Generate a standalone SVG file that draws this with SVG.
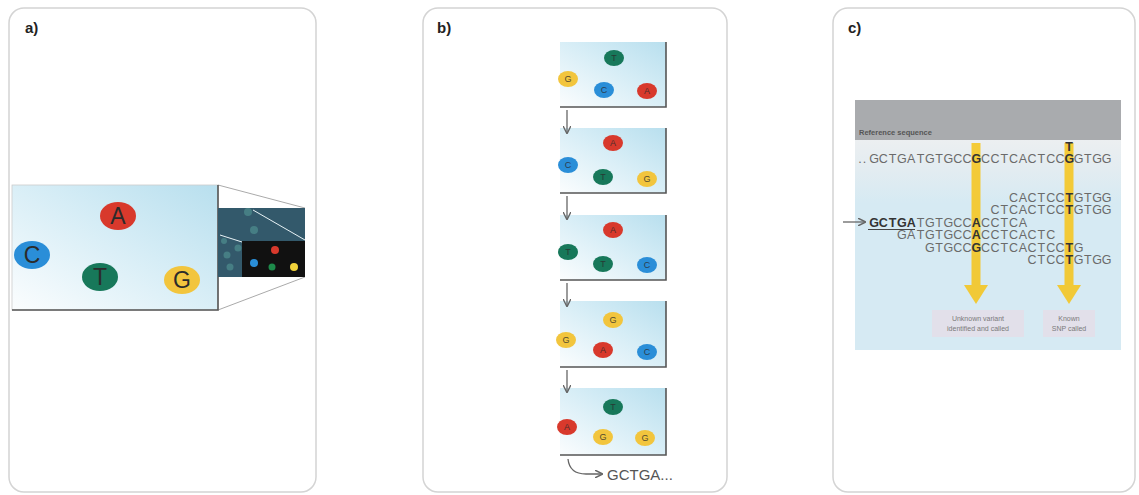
<svg xmlns="http://www.w3.org/2000/svg" width="1139" height="495" viewBox="0 0 1139 495">
<style>
.panel{fill:#fff;stroke:#d4d4d4;stroke-width:1.5}
.lbl{font-family:"Liberation Sans",Arial,sans-serif;font-weight:bold;font-size:15px;fill:#222}
.big{font-family:"Liberation Sans",Arial,sans-serif;font-size:23px;fill:#2b2b2b;text-anchor:middle}
.sm{font-family:"Liberation Sans",Arial,sans-serif;font-size:9px;fill:#2b2b2b;text-anchor:middle;opacity:.8}
.frame{fill:none;stroke:#555;stroke-width:1.6}
.seq{font-family:"Liberation Sans",Arial,sans-serif;font-size:12.5px;fill:#6a6a6a;text-anchor:middle}
.hl{fill:#333;font-weight:bold}
.note{font-family:"Liberation Sans",Arial,sans-serif;font-size:7px;fill:#7a7a7a;text-anchor:middle}
.arr{fill:none;stroke:#666;stroke-width:1.3}
.yel{fill:#f5c623;opacity:.9}
.R{fill:#d8392c}.B{fill:#2a8ed8}.Gr{fill:#17785a}.Y{fill:#f2c53d}
</style>
<defs>
<linearGradient id="gb" x1="0" y1="1" x2="1" y2="0">
<stop offset="0" stop-color="#fbfdfe"/><stop offset="0.55" stop-color="#d6edf6"/><stop offset="1" stop-color="#b8dfee"/>
</linearGradient>
<linearGradient id="gc" x1="0" y1="0" x2="0" y2="1">
<stop offset="0" stop-color="#eceff1"/><stop offset="0.15" stop-color="#e2ecf1"/><stop offset="0.3" stop-color="#d6eaf3"/><stop offset="1" stop-color="#d6eaf3"/>
</linearGradient>
<marker id="ah" viewBox="0 0 10 10" refX="9" refY="5" markerWidth="6" markerHeight="6" orient="auto">
<path d="M0,0 L10,5 L0,10" fill="none" stroke="#666" stroke-width="1.8"/>
</marker>
</defs>
<rect width="1139" height="495" fill="#fff"/>

<g id="panel-a">
<rect class="panel" x="9" y="8" width="307" height="484" rx="15"/>
<text class="lbl" x="25" y="33">a)</text>
<g id="flowcell">
<line x1="218" y1="185" x2="305" y2="208" stroke="#aaa" stroke-width="1"/>
<line x1="218" y1="310" x2="305" y2="277" stroke="#aaa" stroke-width="1"/>
<rect x="12" y="185" width="206" height="125" fill="url(#gb)" stroke="#ccc" stroke-width="0.8"/>
<polyline points="218,185 218,310 12,310" class="frame" stroke-width="2"/>
<ellipse class="R" cx="118" cy="216" rx="18" ry="14"/><text class="big" x="118" y="224">A</text>
<ellipse class="B" cx="32" cy="255" rx="18" ry="14"/><text class="big" x="32" y="263">C</text>
<ellipse class="Gr" cx="100" cy="277" rx="18" ry="14"/><text class="big" x="100" y="285">T</text>
<ellipse class="Y" cx="182" cy="280" rx="18" ry="14"/><text class="big" x="182" y="288">G</text>
</g>
<g id="zoom-view">
<rect x="218" y="208" width="87" height="69" fill="#33596b"/>
<g fill="#4f8e8f" opacity="0.7">
<circle cx="248" cy="212" r="4"/><circle cx="254" cy="230" r="4"/><circle cx="238" cy="248" r="3.5"/>
<circle cx="227" cy="255" r="3.5"/><circle cx="230" cy="267" r="3.5"/><circle cx="224" cy="241" r="3"/>
</g>
<line x1="253" y1="210" x2="305" y2="240" stroke="#e8f2f5" stroke-width="1"/>
<line x1="220" y1="235" x2="242" y2="242" stroke="#e8f2f5" stroke-width="1"/>
<rect x="242" y="241" width="63" height="36" fill="#111"/>
<circle class="R" cx="275" cy="250" r="4"/>
<circle class="B" cx="254" cy="263" r="4"/>
<circle fill="#1d8a4a" cx="272" cy="267" r="3.5"/>
<circle fill="#f1d23a" cx="294" cy="267" r="4"/>
</g>
</g>

<g id="panel-b">
<rect class="panel" x="423" y="8" width="304" height="484" rx="15"/>
<text class="lbl" x="437" y="33">b)</text>
<g id="cycle1">
<rect x="560" y="42" width="106" height="65" fill="url(#gb)"/>
<polyline class="frame" points="666,42 666,107 560,107"/>
<ellipse class="Gr" cx="614" cy="58" rx="10" ry="8"/><text class="sm" x="614" y="61">T</text>
<ellipse class="Y" cx="568" cy="79" rx="10" ry="8"/><text class="sm" x="568" y="82">G</text>
<ellipse class="B" cx="604" cy="90" rx="10" ry="8"/><text class="sm" x="604" y="93">C</text>
<ellipse class="R" cx="647" cy="91" rx="10" ry="8"/><text class="sm" x="647" y="94">A</text>
</g>
<g id="cycle2">
<rect x="560" y="128" width="106" height="65" fill="url(#gb)"/>
<polyline class="frame" points="666,128 666,193 560,193"/>
<ellipse class="R" cx="613" cy="143" rx="10" ry="8"/><text class="sm" x="613" y="146">A</text>
<ellipse class="B" cx="568" cy="165" rx="10" ry="8"/><text class="sm" x="568" y="168">C</text>
<ellipse class="Gr" cx="603" cy="177" rx="10" ry="8"/><text class="sm" x="603" y="180">T</text>
<ellipse class="Y" cx="647" cy="179" rx="10" ry="8"/><text class="sm" x="647" y="182">G</text>
</g>
<g id="cycle3">
<rect x="560" y="215" width="106" height="65" fill="url(#gb)"/>
<polyline class="frame" points="666,215 666,280 560,280"/>
<ellipse class="R" cx="613" cy="230" rx="10" ry="8"/><text class="sm" x="613" y="233">A</text>
<ellipse class="Gr" cx="568" cy="252" rx="10" ry="8"/><text class="sm" x="568" y="255">T</text>
<ellipse class="Gr" cx="603" cy="264" rx="10" ry="8"/><text class="sm" x="603" y="267">T</text>
<ellipse class="B" cx="647" cy="265" rx="10" ry="8"/><text class="sm" x="647" y="268">C</text>
</g>
<g id="cycle4">
<rect x="560" y="301" width="106" height="66" fill="url(#gb)"/>
<polyline class="frame" points="666,301 666,367 560,367"/>
<ellipse class="Y" cx="613" cy="320" rx="10" ry="8"/><text class="sm" x="613" y="323">G</text>
<ellipse class="Y" cx="566" cy="340" rx="10" ry="8"/><text class="sm" x="566" y="343">G</text>
<ellipse class="R" cx="603" cy="350" rx="10" ry="8"/><text class="sm" x="603" y="353">A</text>
<ellipse class="B" cx="647" cy="352" rx="10" ry="8"/><text class="sm" x="647" y="355">C</text>
</g>
<g id="cycle5">
<rect x="560" y="388" width="106" height="67" fill="url(#gb)"/>
<polyline class="frame" points="666,388 666,455 560,455"/>
<ellipse class="Gr" cx="613" cy="407" rx="10" ry="8"/><text class="sm" x="613" y="410">T</text>
<ellipse class="R" cx="567" cy="427" rx="10" ry="8"/><text class="sm" x="567" y="430">A</text>
<ellipse class="Y" cx="603" cy="437" rx="10" ry="8"/><text class="sm" x="603" y="440">G</text>
<ellipse class="Y" cx="645" cy="438" rx="10" ry="8"/><text class="sm" x="645" y="441">G</text>
</g>
<text x="607" y="480" font-family="'Liberation Sans',Arial,sans-serif" font-size="15" fill="#555">GCTGA...</text>
</g>

<g id="panel-c">
<rect class="panel" x="833" y="8" width="302" height="484" rx="15"/>
<text class="lbl" x="848" y="33">c)</text>
<rect x="855" y="100" width="266" height="40" fill="#a9abae"/>
<text x="859" y="135" font-family="'Liberation Sans',Arial,sans-serif" font-size="7.5" font-weight="bold" fill="#555">Reference sequence</text>
<rect x="855" y="140" width="266" height="210" fill="url(#gc)"/>
<g id="label-unknown">
<rect x="932" y="310" width="92" height="27" fill="#e2e0ea"/>
<text class="note" x="978" y="321">Unknown variant</text>
<text class="note" x="978" y="331">identified and called</text>
</g>
<g id="label-known">
<rect x="1043" y="310" width="52" height="27" fill="#e2e0ea"/>
<text class="note" x="1069" y="321">Known</text>
<text class="note" x="1069" y="331">SNP called</text>
</g>
</g>

<g id="connectors">
<line class="arr" x1="567" y1="110" x2="567" y2="133" marker-end="url(#ah)"/>
<line class="arr" x1="567" y1="196" x2="567" y2="219" marker-end="url(#ah)"/>
<line class="arr" x1="567" y1="283" x2="567" y2="306" marker-end="url(#ah)"/>
<line class="arr" x1="567" y1="370" x2="567" y2="392" marker-end="url(#ah)"/>
<path class="arr" d="M568,459 C569,469 575,474 586,474 L602,474" marker-end="url(#ah)"/>
<line class="arr" x1="843" y1="222" x2="865" y2="222" marker-end="url(#ah)"/>
<g id="arrow-variant" class="yel">
<rect x="971.5" y="143" width="9" height="143"/>
<polygon points="964,285 988,285 976,304"/>
</g>
<g id="arrow-snp" class="yel">
<rect x="1064.5" y="143" width="9" height="143"/>
<polygon points="1057,285 1081,285 1069,304"/>
</g>
</g>

<g id="sequences">
<text class="seq" x="860 864.5 874 883.3 892.6 901.9 911.2 920.5 929.8 939.1 948.4 957.7 967 976.3 985.6 994.9 1004.2 1013.5 1022.8 1032.1 1041.4 1050.7 1060 1069.3 1078.6 1087.9 1097.2 1106.5" y="163">..GCTGATGTGCC<tspan class="hl">G</tspan>CCTCACTCC<tspan class="hl">G</tspan>GTGG</text>
<text class="seq hl" x="1069" y="151" font-size="9">T</text>
<text class="seq" x="1013.5 1022.8 1032.1 1041.4 1050.7 1060 1069.3 1078.6 1087.9 1097.2 1106.5" y="201.5">CACTCC<tspan class="hl">T</tspan>GTGG</text>
<text class="seq" x="994.9 1004.2 1013.5 1022.8 1032.1 1041.4 1050.7 1060 1069.3 1078.6 1087.9 1097.2 1106.5" y="214">CTCACTCC<tspan class="hl">T</tspan>GTGG</text>
<text class="seq" x="874 883.3 892.6 901.9 911.2 920.5 929.8 939.1 948.4 957.7 967 976.3 985.6 994.9 1004.2 1013.5 1022.8" y="226.5"><tspan class="hl">GCTGA</tspan>TGTGCC<tspan class="hl">A</tspan>CCTCA</text>
<line x1="868" y1="229.5" x2="915" y2="229.5" stroke="#444" stroke-width="1"/>
<text class="seq" x="901.9 911.2 920.5 929.8 939.1 948.4 957.7 967 976.3 985.6 994.9 1004.2 1013.5 1022.8 1032.1 1041.4 1050.7" y="239">GATGTGCC<tspan class="hl">A</tspan>CCTCACTC</text>
<text class="seq" x="929.8 939.1 948.4 957.7 967 976.3 985.6 994.9 1004.2 1013.5 1022.8 1032.1 1041.4 1050.7 1060 1069.3 1078.6" y="251.5">GTGCC<tspan class="hl">G</tspan>CCTCACTCC<tspan class="hl">T</tspan>G</text>
<text class="seq" x="1032.1 1041.4 1050.7 1060 1069.3 1078.6 1087.9 1097.2 1106.5" y="264">CTCC<tspan class="hl">T</tspan>GTGG</text>
</g>
</svg>
